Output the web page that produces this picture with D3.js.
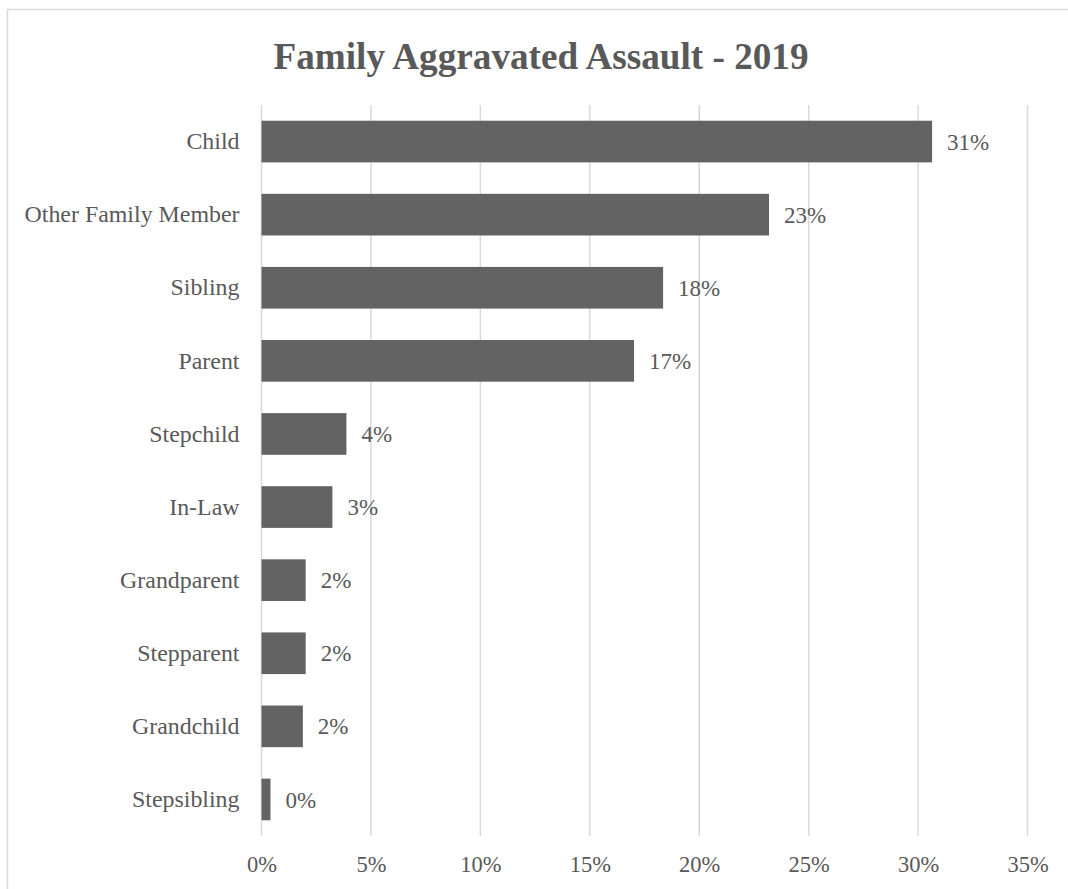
<!DOCTYPE html>
<html><head><meta charset="utf-8">
<script src="https://cdn.jsdelivr.net/npm/d3@7"></script>
<style>html,body{margin:0;padding:0;background:#fff;}</style>
</head><body>
<svg id="chart" width="1068" height="889"></svg>
<script>
const categories = ["Child","Other Family Member","Sibling","Parent","Stepchild","In-Law","Grandparent","Stepparent","Grandchild","Stepsibling"];
const values = [30.64, 23.19, 18.35, 17.02, 3.88, 3.24, 2.02, 2.02, 1.89, 0.41];
const valueLabels = ["31%","23%","18%","17%","4%","3%","2%","2%","2%","0%"];
const xTicks = [0,5,10,15,20,25,30,35];
const title = "Family Aggravated Assault - 2019";

(function(){
const svg = d3.select("#chart");
const font = "'Liberation Serif','Times New Roman',serif";
const textColor = "#595959";

svg.append("rect").attr("x",7.5).attr("y",9.5).attr("width",1100).attr("height",1000)
  .attr("fill","#fff").attr("stroke","#d9d9d9").attr("stroke-width",1.5);

const pL = 261.5, pR = 1027.5, pT = 105, pB = 836;
const x = d3.scaleLinear().domain([0,35]).range([pL,pR]);
const y = d3.scaleBand().domain(categories).range([pT,pB]).paddingInner(0.43).paddingOuter(0.215);

// gridlines
svg.append("g").selectAll("line").data(xTicks).join("line")
  .attr("x1",d=>x(d)).attr("x2",d=>x(d)).attr("y1",pT).attr("y2",pB)
  .attr("stroke","#d9d9d9").attr("stroke-width",1.5);

// bars
svg.append("g").selectAll("rect").data(categories).join("rect")
  .attr("x",x(0)).attr("y",d=>y(d))
  .attr("width",(d,i)=>x(values[i])-x(0)).attr("height",y.bandwidth())
  .attr("fill","#636363");

// value labels
svg.append("g").selectAll("text").data(categories).join("text")
  .attr("x",(d,i)=>x(values[i])+15).attr("y",d=>y(d)+y.bandwidth()/2)
  .attr("dy","0.35em").attr("font-family",font).attr("font-size",23).attr("fill",textColor)
  .text((d,i)=>valueLabels[i]);

// category axis labels
const yAxis = d3.axisLeft(y).tickSize(0).tickPadding(22);
const gy = svg.append("g").attr("transform",`translate(${pL},0)`).call(yAxis);
gy.select(".domain").remove();
gy.selectAll("text").attr("font-family",font).attr("font-size",23.9).attr("fill",textColor);

// x axis labels
const xAxis = d3.axisBottom(x).tickValues(xTicks).tickFormat(d=>d+"%").tickSize(0).tickPadding(20);
const gx = svg.append("g").attr("transform",`translate(0,${pB})`).call(xAxis);
gx.select(".domain").remove();
gx.selectAll("text").attr("font-family",font).attr("font-size",22.5).attr("fill",textColor);

// title
svg.append("text").attr("x",541).attr("y",69).attr("text-anchor","middle")
  .attr("font-family",font).attr("font-size",37.2).attr("font-weight","bold").attr("fill",textColor)
  .text(title);
})();
</script>
</body></html>
